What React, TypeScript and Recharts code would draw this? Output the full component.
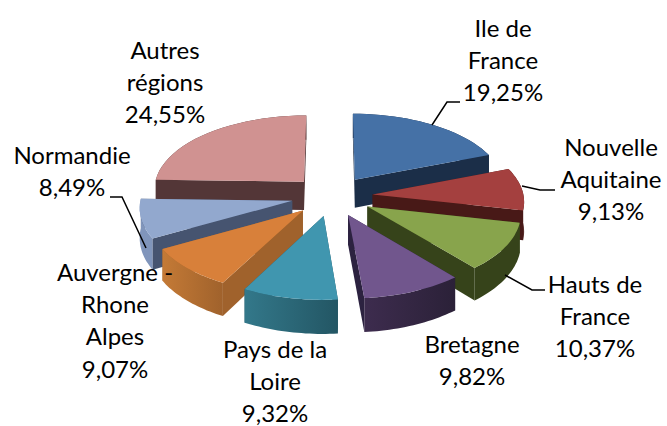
import React from 'react';
import { PieChart, Pie } from 'recharts';

// clockwise from the top of the pie
const regions = ['Ile de France', 'Nouvelle Aquitaine', 'Hauts de France', 'Bretagne', 'Pays de la Loire', 'Auvergne - Rhone Alpes', 'Normandie', 'Autres régions'];
const shares = [19.25, 9.13, 10.37, 9.82, 9.32, 9.07, 8.49, 24.55];

const labelLines = [
  ['Ile de', 'France'],
  ['Nouvelle', 'Aquitaine'],
  ['Hauts de', 'France'],
  ['Bretagne'],
  ['Pays de la', 'Loire'],
  ['Auvergne -', 'Rhone', 'Alpes'],
  ['Normandie'],
  ['Autres', 'régions'],
];

const topColors = ['#4571A6', '#A4403F', '#88A44C', '#71568D', '#4096AF', '#D8803A', '#92A8CE', '#D09291'];
const sideColors = ['#1B2E48', '#481917', '#36431A', '#2C2240', '#235664', '#A0622C', '#465470', '#533637'];
const rimLeft = ['#1B2E48', '#481917', '#36431A', '#3D2C4E', '#33788A', '#C47A36', '#8095BB', '#533637'];
const rimRight = ['#1B2E48', '#481917', '#36431A', '#2B2138', '#235664', '#A0622C', '#8095BB', '#533637'];

// where each label block sits: centre x, first baseline
const labelPos = [
  [503, 37], [611, 156], [595, 293], [472, 353], [275, 358], [115, 281], [72, 164], [165, 59],
];
const leaders = [
  'M432,125 L447,102 L460,102',
  'M522,186 L540,190 L555,190',
  'M505,275 L532,290 L545,290',
  '', '', '',
  'M110,197 L122,197 L146,248',
  '',
];

const WIDTH = 667;
const HEIGHT = 426;
const CX = 332;
const CY = 196;
const RADIUS = 151;
const TILT = 0.494;
const PERSPECTIVE = 0.08;
const EXPLODE = 0.27;

const rows = regions.map((name, i) => ({ name, value: shares[i], idx: i }));
const rightRows = rows.slice(0, 5);
const leftRows = rows.slice(5).reverse();
const sum = (r: typeof rows) => r.reduce((a, d) => a + d.value, 0);

const toPct = (v: number) => v.toFixed(2).replace('.', ',') + '%';
const pts = (list: number[][]) => list.map((p) => p[0].toFixed(1) + ',' + p[1].toFixed(1)).join(' ');

// squashed disc with a little perspective, the front gets bigger
const project = (cx: number, cy: number, r: number, X: number, Y: number, down: boolean) => {
  const s = 1 + PERSPECTIVE * Y;
  const y = cy + r * TILT * Y * s;
  return [cx + r * X * s, down ? y + 29 + 4 * Y : y];
};

const Slice3D = (props: any) => {
  const { cx, cy, outerRadius, startAngle, endAngle, payload } = props;
  const i = payload.idx;
  const r = outerRadius;
  const a0 = (Math.min(startAngle, endAngle) * Math.PI) / 180;
  const a1 = (Math.max(startAngle, endAngle) * Math.PI) / 180;
  const mid = (a0 + a1) / 2;
  const ox = EXPLODE * Math.cos(mid);
  const oy = -EXPLODE * Math.sin(mid);

  const steps = 24;
  const arc: number[][] = [];
  for (let k = 0; k <= steps; k++) {
    const a = a0 + ((a1 - a0) * k) / steps;
    arc.push([ox + Math.cos(a), oy - Math.sin(a)]);
  }
  const at = (p: number[], down: boolean) => project(cx, cy, r, p[0], p[1], down);
  const apex = [ox, oy];
  const first = arc[0];
  const last = arc[arc.length - 1];

  const walls = [
    { y: (apex[1] + first[1]) / 2, poly: [at(apex, false), at(first, false), at(first, true), at(apex, true)], fill: sideColors[i] },
    { y: (apex[1] + last[1]) / 2, poly: [at(apex, false), at(last, false), at(last, true), at(apex, true)], fill: sideColors[i] },
    {
      y: arc[steps / 2][1],
      poly: [...arc.map((p) => at(p, false)), ...arc.slice().reverse().map((p) => at(p, true))],
      fill: `url(#rim${i})`,
    },
  ].sort((p, q) => p.y - q.y);

  return (
    <g>
      <defs>
        <linearGradient id={`rim${i}`} x1="0" y1="0" x2="1" y2="0">
          <stop offset="0" stopColor={rimLeft[i]} />
          <stop offset="1" stopColor={rimRight[i]} />
        </linearGradient>
      </defs>
      {walls.map((w, k) => (
        <polygon key={k} points={pts(w.poly)} fill={w.fill} />
      ))}
      <polygon points={pts([at(apex, false), ...arc.map((p) => at(p, false))])} fill={topColors[i]} />
    </g>
  );
};

const SliceLabel = (props: any) => {
  const i = props.payload ? props.payload.idx : props.idx;
  const [x, y] = labelPos[i];
  const lines = [...labelLines[i], toPct(shares[i])];
  return (
    <g>
      {leaders[i] && <path d={leaders[i]} fill="none" stroke="#000" strokeWidth={1.5} />}
      <text x={x} y={y} textAnchor="middle" fontFamily="Lato" fontSize={24} fill="#000">
        {lines.map((t, k) => (
          <tspan key={k} x={x} y={y + k * 32.2}>
            {t}
          </tspan>
        ))}
      </text>
    </g>
  );
};

export default function App() {
  return (
    <div style={{ position: 'absolute', left: 0, top: 0, width: WIDTH, height: HEIGHT, background: '#fff' }}>
      <PieChart width={WIDTH} height={HEIGHT} margin={{ top: 0, right: 0, bottom: 0, left: 0 }}>
        {/* left half first, walking back from the top, so nearer slices paint over */}
        <Pie
          data={leftRows}
          dataKey="value"
          cx={CX}
          cy={CY}
          outerRadius={RADIUS}
          startAngle={90}
          endAngle={90 + (sum(leftRows) / 100) * 360}
          shape={Slice3D}
          label={SliceLabel}
          labelLine={false}
          stroke="none"
          isAnimationActive={false}
        />
        <Pie
          data={rightRows}
          dataKey="value"
          cx={CX}
          cy={CY}
          outerRadius={RADIUS}
          startAngle={90}
          endAngle={90 - (sum(rightRows) / 100) * 360}
          shape={Slice3D}
          label={SliceLabel}
          labelLine={false}
          stroke="none"
          isAnimationActive={false}
        />
      </PieChart>
    </div>
  );
}
